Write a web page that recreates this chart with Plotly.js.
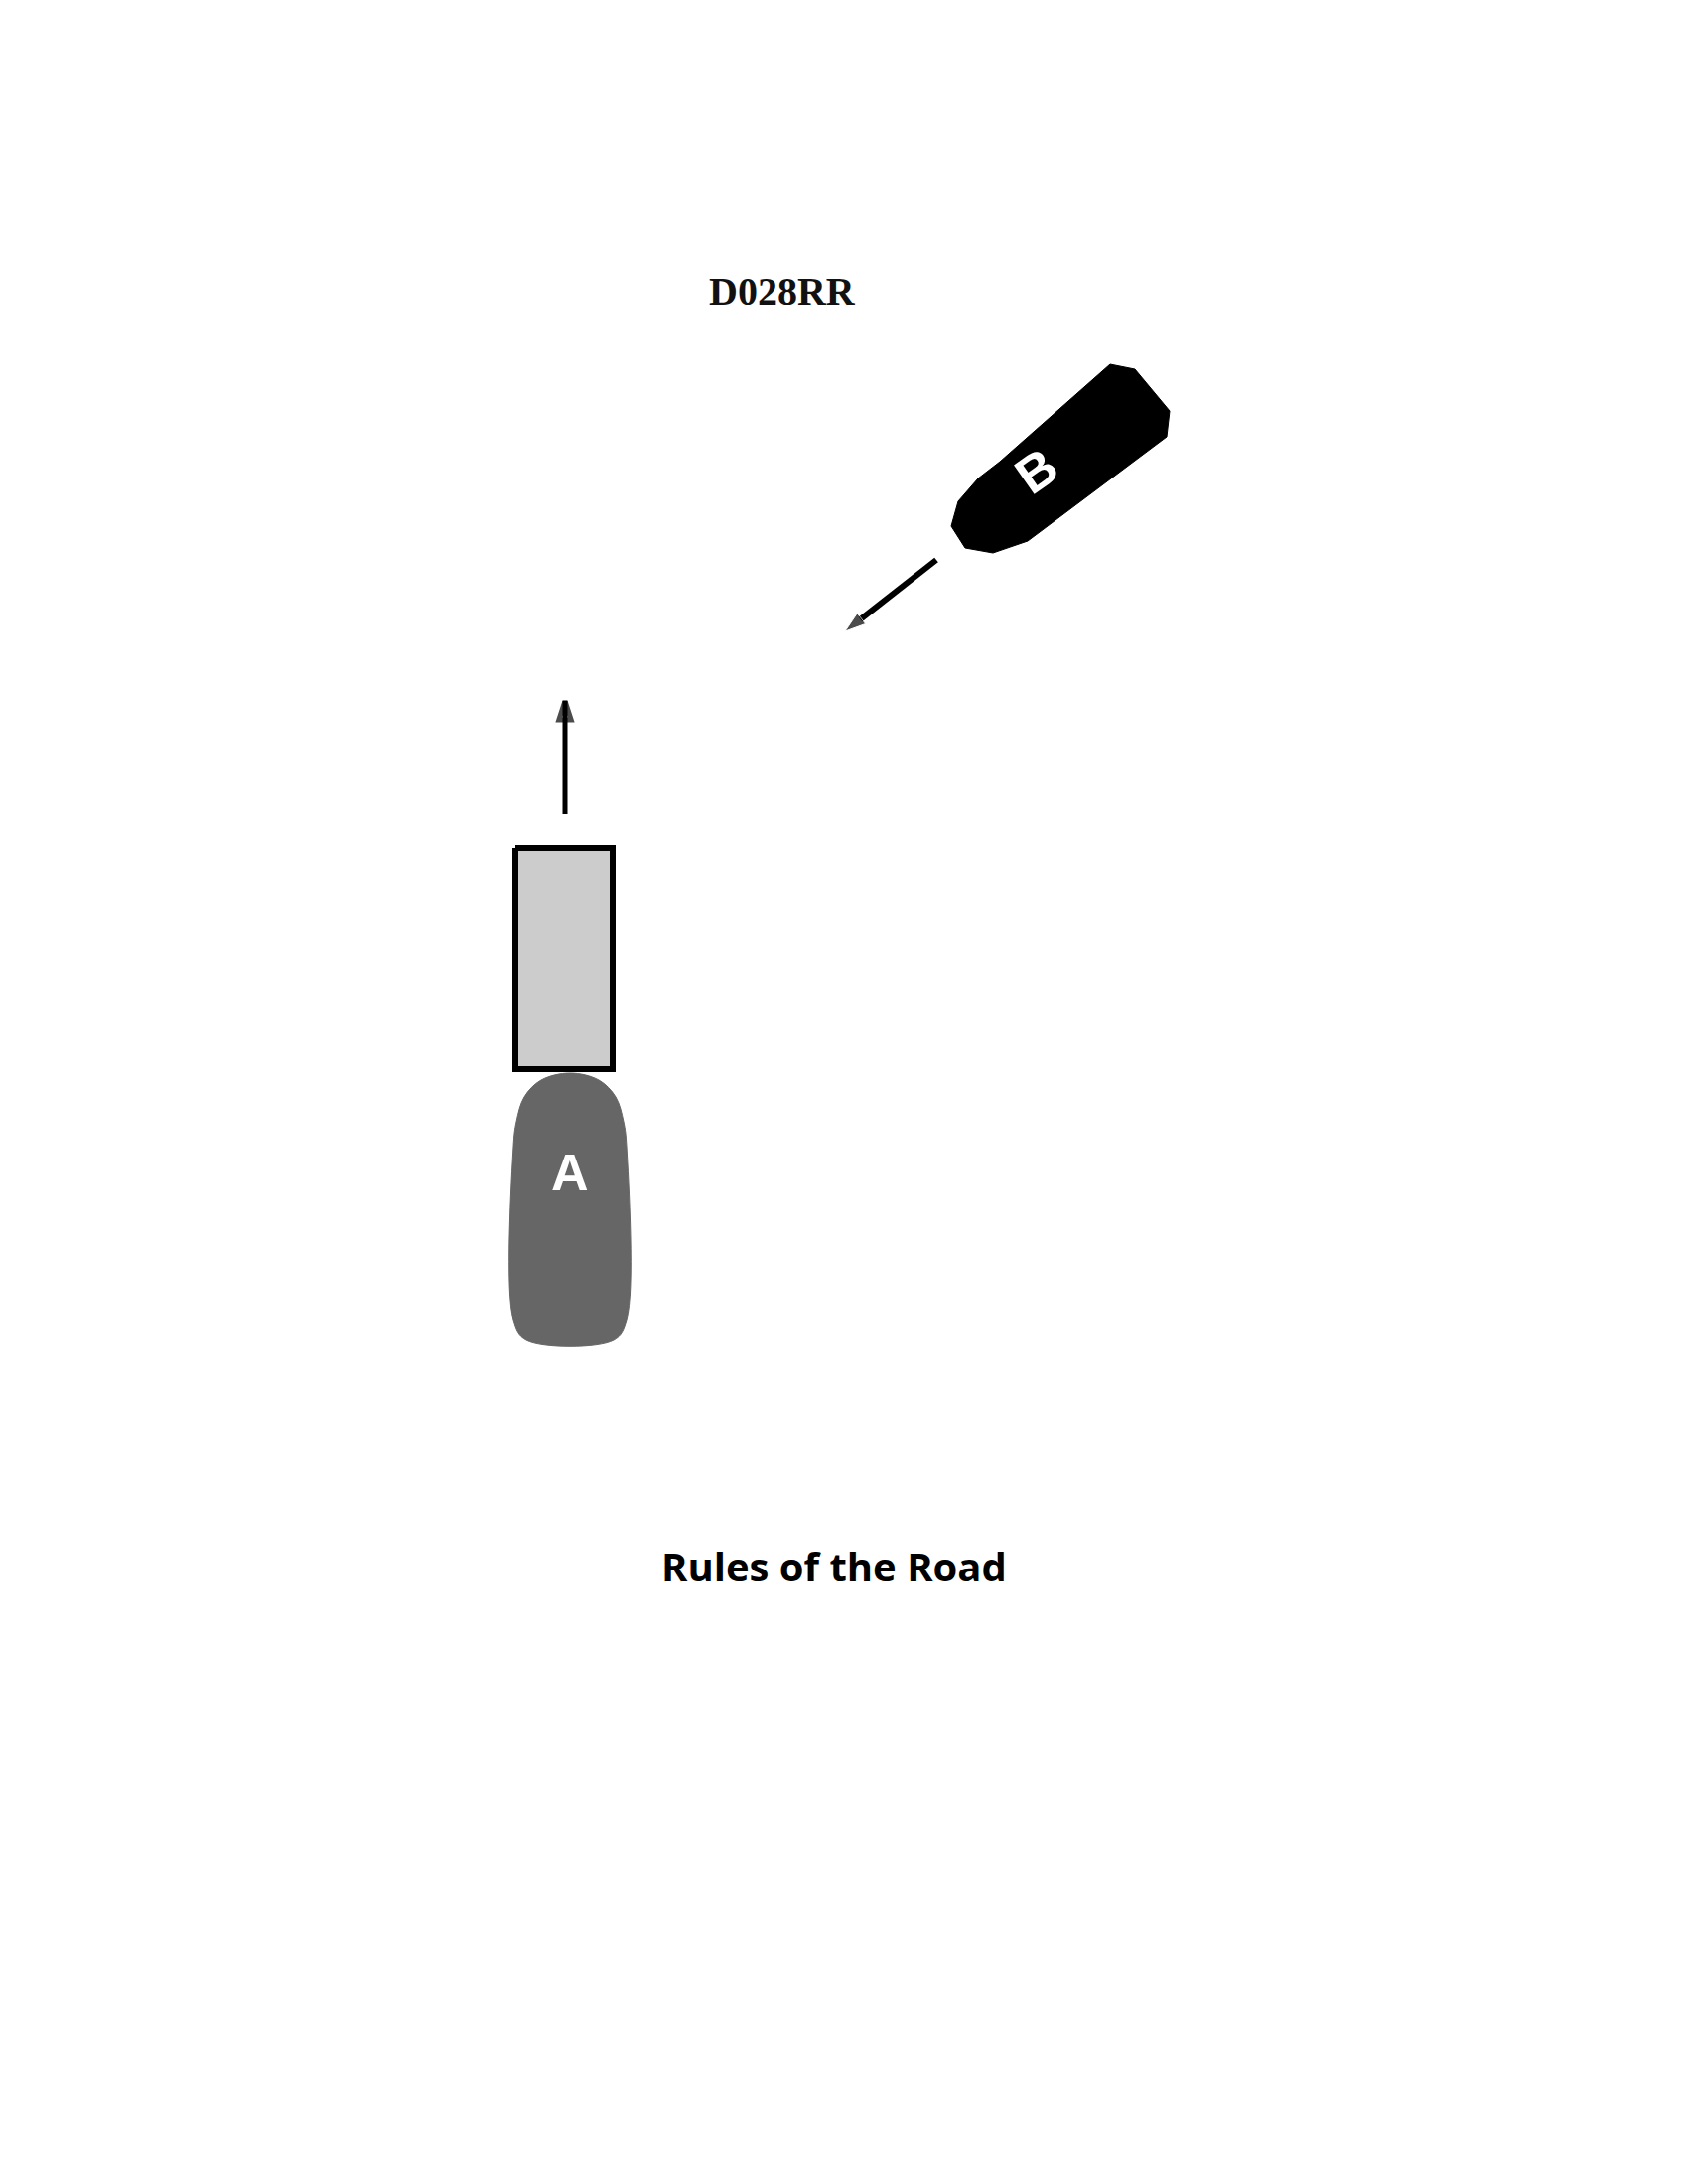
<!DOCTYPE html>
<html>
<head>
<script src="https://cdn.plot.ly/plotly-3.0.1.min.js"></script>
<style>body{margin:0;background:#fff}</style>
</head>
<body>
<div id="myDiv" style="width:1700px;height:2200px"></div>
<script>
// outlines in page pixel units (x right, y down)
var boatAx = [574, 545, 528, 520, 517, 517, 530, 618, 631, 631, 628, 620, 603, 574];
var boatAy = [1081, 1088, 1105, 1130, 1155, 1330, 1350, 1350, 1330, 1155, 1130, 1105, 1088, 1081];
var boatBx = [1118, 1143, 1178, 1175, 1035, 1000, 972, 958, 965, 985, 1007, 1118];
var boatBy = [367, 372, 414, 440, 545, 557, 552, 530, 505, 482, 465, 367];
var boxX = [519, 617, 617, 519, 519];
var boxY = [854, 854, 1077, 1077, 854];
var arrowAx = [569, 569];
var arrowAy = [820, 706];
var arrowBx = [943, 851];
var arrowBy = [564, 636];

var data = [
  {x: boxX, y: boxY, mode: 'lines', fill: 'toself', fillcolor: '#cccccc',
   line: {color: '#000', width: 6}, type: 'scatter'},
  {x: boatAx, y: boatAy, mode: 'lines', fill: 'toself', fillcolor: '#666666',
   line: {color: '#666666', width: 1, shape: 'spline'}, type: 'scatter'},
  {x: boatBx, y: boatBy, mode: 'lines', fill: 'toself', fillcolor: '#000',
   line: {color: '#000', width: 1}, type: 'scatter'},
  {x: arrowAx, y: arrowAy, mode: 'lines+markers', line: {color: '#000', width: 5},
   marker: {symbol: 'arrow-open', size: [0, 20], angleref: 'previous', color: '#000',
   line: {width: 5, color: '#000'}}, type: 'scatter'},
  {x: arrowBx, y: arrowBy, mode: 'lines+markers', line: {color: '#000', width: 6},
   marker: {symbol: 'arrow', size: [0, 22], angleref: 'previous', color: '#000'}, type: 'scatter'}
];

var layout = {
  width: 1700, height: 2200,
  margin: {l: 0, r: 0, b: 0, t: 0},
  showlegend: false,
  paper_bgcolor: '#fff', plot_bgcolor: '#fff',
  xaxis: {range: [0, 1700], visible: false, fixedrange: true},
  yaxis: {range: [2200, 0], visible: false, fixedrange: true},
  annotations: [
    {x: 788, y: 293, text: '<b>D028RR</b>', showarrow: false,
     font: {family: 'Liberation Serif', size: 40, color: '#111'}},
    {x: 574, y: 1181, text: '<b>A</b>', showarrow: false,
     font: {family: 'Liberation Sans', size: 52, color: '#fff'}},
    {x: 1044, y: 474, text: '<b>B</b>', showarrow: false, textangle: -35,
     font: {family: 'Liberation Sans', size: 52, color: '#fff'}},
    {x: 840, y: 1577, text: '<b>Rules of the Road</b>', showarrow: false,
     font: {family: 'Open Sans', size: 40, color: '#000'}}
  ]
};

Plotly.newPlot('myDiv', data, layout, {staticPlot: true});
</script>
</body>
</html>
